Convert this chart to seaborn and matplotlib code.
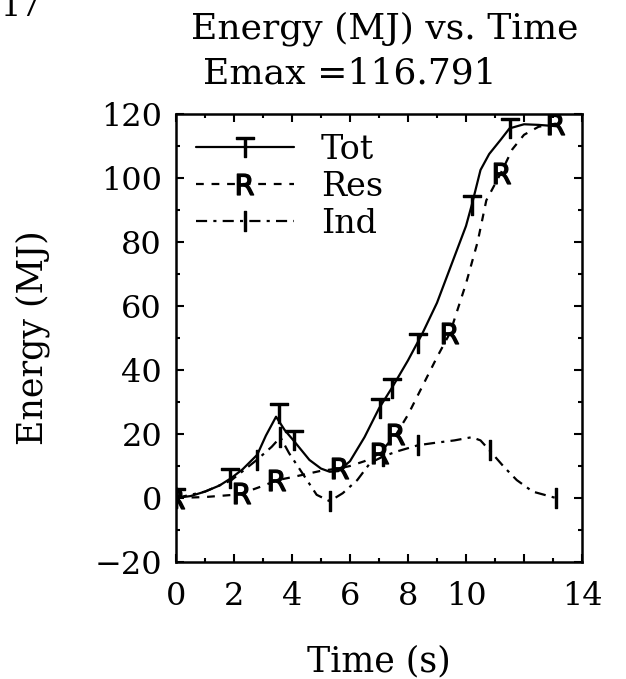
import numpy as np
import pandas as pd
import seaborn as sns
import matplotlib
matplotlib.use("Agg")
import matplotlib.pyplot as plt
from matplotlib.lines import Line2D
from matplotlib.ticker import MultipleLocator, FixedLocator

# ---------------- data ----------------
tot_t = [0, 0.5, 1.0, 1.5, 1.9, 2.3, 2.8, 3.1, 3.45, 3.75, 4.05, 4.6, 5.0, 5.3,
         5.6, 6.0, 6.5, 7.0, 7.45, 8.0, 8.5, 9.0, 9.5, 10.0, 10.2, 10.5, 10.8,
         11.2, 11.5, 12.0, 12.5, 13.1]
tot_e = [0, 0.6, 2.0, 3.9, 6.2, 9.0, 13.5, 19.5, 25.4, 21.2, 18.0, 11.9, 9.2, 8.2,
         8.4, 11.5, 19.0, 28.0, 34.5, 43.0, 51.5, 61.0, 73.0, 85.0, 91.6, 102.5, 107.5,
         112.0, 115.5, 116.791, 116.6, 116.2]

res_t = [0, 1.0, 2.0, 2.3, 3.0, 3.5, 4.0, 4.5, 5.0, 5.6, 6.0, 6.5, 7.0, 7.6, 8.0,
         8.5, 9.0, 9.45, 10.0, 10.4, 10.7, 11.2, 11.6, 12.0, 12.5, 13.1]
res_e = [0, 0.3, 1.0, 1.5, 3.8, 5.6, 6.5, 7.5, 8.5, 9.2, 10.0, 11.5, 13.8, 20.0, 26.0,
         35.0, 44.0, 51.6, 67.0, 80.0, 93.0, 101.5, 109.0, 113.5, 116.0, 117.0]

ind_t = [0, 1.0, 1.9, 2.8, 3.3, 3.6, 3.9, 4.5, 4.85, 5.3, 5.75, 6.25, 6.7, 7.15,
         7.6, 8.35, 8.9, 9.6, 10.2, 10.5, 10.8, 11.3, 11.75, 12.3, 13.1]
ind_e = [0, 2.0, 5.5, 12.0, 16.0, 19.0, 14.0, 5.8, 1.0, -1.0, 1.5, 5.6, 11.0, 13.0,
         14.5, 16.5, 17.2, 18.0, 19.0, 18.0, 15.0, 9.8, 5.6, 2.0, 0.0]

# marker (symbol) positions
tot_mk_t = [0, 1.86, 3.55, 4.07, 7.03, 7.44, 8.35, 10.2, 11.52]
tot_mk_e = [0, 6.2, 26.5, 18.0, 28.0, 34.3, 48.4, 91.6, 115.6]
res_mk_t = [0, 2.26, 3.47, 5.66, 7.03, 7.6, 9.45, 11.23, 13.1]
res_mk_e = [0, 1.5, 5.6, 9.4, 14.0, 20.0, 51.6, 101.5, 117.0]
ind_mk_t = [0, 2.8, 3.6, 5.31, 7.14, 8.35, 10.83, 13.1]
ind_mk_e = [0, 12.0, 19.0, -1.0, 13.0, 16.5, 15.0, 0.0]

series_names = ["Tot", "Res", "Ind"]
x_tick_values = [0, 2, 4, 6, 8, 10, 12, 14]
x_tick_labels = ["0", "2", "4", "6", "8", "10", "", "14"]
y_tick_values = [-20, 0, 20, 40, 60, 80, 100, 120]

# ---------------- style ----------------
sns.set_theme(style="ticks")
plt.rcParams["font.family"] = ["DejaVu Serif"]
plt.rcParams["mathtext.fontset"] = "dejavusans"
for k in ["text.color", "axes.labelcolor", "xtick.color", "ytick.color", "axes.edgecolor"]:
    plt.rcParams[k] = "black"

fig = plt.figure(figsize=(6.26, 6.79), dpi=100)
ax = fig.add_axes([176 / 626, 1 - 562 / 679, (582 - 176) / 626, (562 - 114) / 679])

LW = 1.6
ls_tot = "-"
ls_res = (0, (3.5, 3.5))
ls_ind = (0, (5.0, 2.8, 1.4, 2.8))

sns.lineplot(x=tot_t, y=tot_e, ax=ax, color="black", lw=LW, linestyle=ls_tot, sort=False)
sns.lineplot(x=res_t, y=res_e, ax=ax, color="black", lw=LW, linestyle=ls_res, sort=False)
sns.lineplot(x=ind_t, y=ind_e, ax=ax, color="black", lw=LW, linestyle=ls_ind, sort=False)

mk_T = r"$\mathsf{T}$"
mk_R = r"$\mathsf{R}$"
mk_I = r"$\mathsf{I}$"
MS = 15
ax.plot(tot_mk_t, tot_mk_e, linestyle="none", marker=mk_T, color="black", markersize=MS)
ax.plot(res_mk_t, res_mk_e, linestyle="none", marker=mk_R, color="black", markersize=MS)
ax.plot(ind_mk_t, ind_mk_e, linestyle="none", marker=mk_I, color="black", markersize=MS)

ax.set_xlim(0, 14)
ax.set_ylim(-20, 120)
ax.xaxis.set_major_locator(FixedLocator(x_tick_values))
ax.set_xticklabels(x_tick_labels)
ax.xaxis.set_minor_locator(MultipleLocator(1))
ax.yaxis.set_major_locator(FixedLocator(y_tick_values))
ax.yaxis.set_minor_locator(MultipleLocator(10))

for sp in ax.spines.values():
    sp.set_visible(True)
    sp.set_linewidth(1.8)
    sp.set_color("black")

ax.tick_params(which="both", direction="in", top=True, right=True, colors="black")
ax.tick_params(which="major", length=6, width=1.5)
ax.tick_params(which="minor", length=3, width=1.5)
ax.tick_params(axis="x", which="major", labelsize=23, pad=14)
ax.tick_params(axis="y", which="major", labelsize=23, pad=10)

ax.set_xlabel("Time (s)", fontsize=25)
ax.set_ylabel("Energy (MJ)", fontsize=25)
ax.xaxis.set_label_coords(0.5, -0.183)
ax.yaxis.set_label_coords(-0.31, 0.5)

handles = [
    Line2D([], [], color="black", lw=LW, linestyle=ls_tot, marker=mk_T, markersize=MS),
    Line2D([], [], color="black", lw=LW, linestyle=ls_res, marker=mk_R, markersize=MS),
    Line2D([], [], color="black", lw=LW, linestyle=ls_ind, marker=mk_I, markersize=MS),
]
ax.legend(handles, series_names, loc="upper left", bbox_to_anchor=(0.0, 1.0),
          frameon=False, fontsize=24, handlelength=2.95, handletextpad=0.8,
          labelspacing=0.15, borderaxespad=0.3, borderpad=0.3, numpoints=1)

fig.text(385 / 626, 1 - 39 / 679, "Energy (MJ) vs. Time", fontsize=26, ha="center", va="baseline")
fig.text(350 / 626, 1 - 83 / 679, f"Emax ={max(tot_e):.3f}", fontsize=26, ha="center", va="baseline")
fig.text(0.0, 1 - 16 / 679, "17", fontsize=23, ha="left", va="baseline")

fig.savefig("out.png", dpi=100)
